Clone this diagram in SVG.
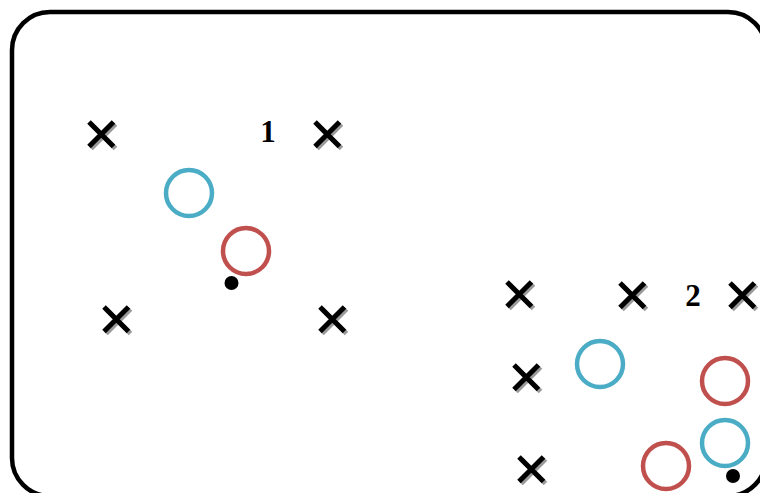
<svg xmlns="http://www.w3.org/2000/svg" width="760" height="493" viewBox="0 0 760 493">
  <defs>
    <style>
      .frame { fill: none; stroke: #000; stroke-width: 4.5; }
      .cross-shadow { stroke: #9a9a9a; stroke-width: 5; fill: none; }
      .cross-mark { stroke: #000; stroke-width: 5; fill: none; }
      .ring-blue { fill: none; stroke: #4bacc6; stroke-width: 4.5; }
      .ring-red { fill: none; stroke: #c0504d; stroke-width: 4.5; }
      .dot { fill: #000; }
      .label { font-family: "Liberation Serif", "Times New Roman", serif; font-weight: bold; font-size: 31px; fill: #000; text-anchor: middle; }
    </style>
    <!-- cross marker with a soft grey drop shadow -->
    <g id="cross">
      <path class="cross-shadow" d="M-10,-10 L14.5,14.5 M14.5,-10 L-10,14.5"/>
      <path class="cross-mark" d="M-12,-12 L12.5,12.5 M12.5,-12 L-12,12.5"/>
    </g>
  </defs>

  <rect id="frame" class="frame" x="12" y="12" width="754" height="484" rx="38" ry="38"/>

  <g id="cluster-1">
    <use id="x1a" href="#cross" x="101" y="134"/>
    <use id="x1b" href="#cross" x="327" y="134"/>
    <use id="x1c" href="#cross" x="116" y="319"/>
    <use id="x1d" href="#cross" x="332" y="319"/>
    <text id="label-1" class="label" x="268" y="142">1</text>
    <circle id="blue-1" class="ring-blue" cx="189" cy="193" r="23"/>
    <circle id="red-1" class="ring-red" cx="246" cy="251" r="23"/>
    <circle id="dot-1" class="dot" cx="231.5" cy="283" r="7"/>
  </g>

  <g id="cluster-2">
    <use id="x2a" href="#cross" x="519" y="294"/>
    <use id="x2b" href="#cross" x="632" y="295"/>
    <use id="x2c" href="#cross" x="742" y="295"/>
    <use id="x2d" href="#cross" x="526" y="377"/>
    <use id="x2e" href="#cross" x="531" y="469"/>
    <text id="label-2" class="label" x="693" y="306">2</text>
    <circle id="blue-2a" class="ring-blue" cx="600" cy="364" r="23"/>
    <circle id="red-2a" class="ring-red" cx="725" cy="381" r="23"/>
    <circle id="blue-2b" class="ring-blue" cx="725" cy="443" r="23"/>
    <circle id="red-2b" class="ring-red" cx="666" cy="466" r="23"/>
    <circle id="dot-2" class="dot" cx="733" cy="476" r="7"/>
  </g>
</svg>
